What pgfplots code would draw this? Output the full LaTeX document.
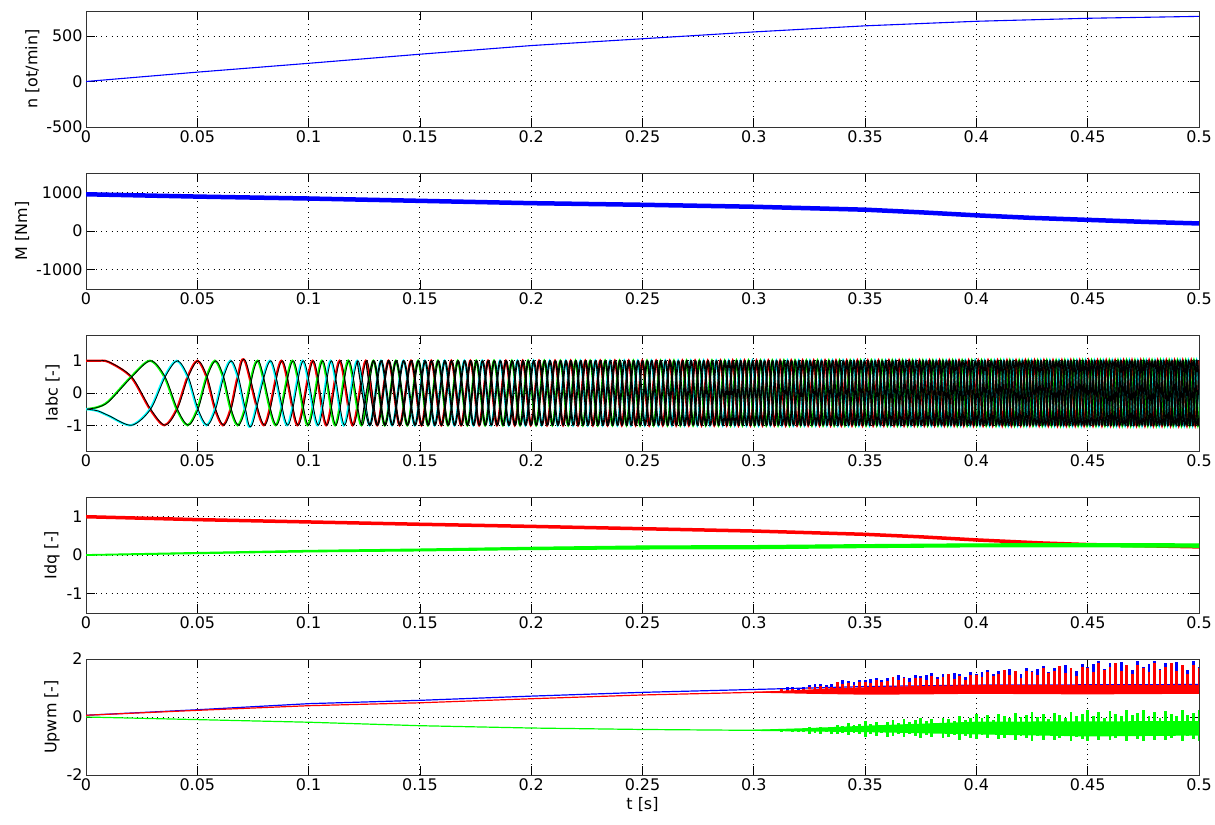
\documentclass[border=0pt]{standalone}
\usepackage{fontspec}
\setmainfont{DejaVu Sans}
\usepackage{pgfplots}
\usepackage{pgfplotstable}
\pgfplotsset{compat=1.18}
\definecolor{mred}{rgb}{1,0,0}
\definecolor{mgreen}{rgb}{0,1,0}
\definecolor{mcyan}{rgb}{0,1,1}
\definecolor{mblue}{rgb}{0,0,1}

% phase a (red): extrema
\pgfplotstableread{
t v
0 1
0.005 0.998
0.010 0.966
0.0202 0.5
0.0287 -0.5
0.0352 -1
0.0407 -0.5
0.0456 0.5
0.0500 1
0.0541 0.5
0.0579 -0.5
0.0615 -1
0.0649 -0.5
0.0681 0.5
0.0713 1
0.0799 -1
0.0878 1
0.0950 -1
0.1018 1
0.1079 -1
0.1139 1
0.1198 -1
0.1257 1
0.1308 -1
0.1359 1
0.1409 -1
0.1460 1
0.1507 -1
0.1551 1
0.1596 -1
0.1641 1
0.1685 -1
0.1727 1
0.1766 -1
0.1806 1
0.1846 -1
0.1886 1
0.1926 -1
0.1962 1
0.1998 -1
0.2035 1
0.2071 -1
0.2107 1
0.2143 -1
0.2177 1
0.2210 -1
0.2243 1
0.2277 -1
0.2310 1
0.2343 -1
0.2376 1
0.2407 -1
0.2438 1
0.2469 -1
0.2499 1
0.2530 -1
0.2561 1
0.2591 -1
0.2622 1
0.2651 -1
0.2679 1
0.2708 -1
0.2736 1
0.2765 -1
0.2793 1
0.2822 -1
0.2850 1
0.2878 -1
0.2905 1
0.2931 -1
0.2958 1
0.2985 -1
0.3012 1
0.3039 -1
0.3065 1
0.3092 -1
0.3118 1
0.3143 -1
0.3168 1
0.3194 -1
0.3219 1
0.3244 -1
0.3269 1
0.3295 -1
0.3320 1
0.3345 -1
0.3369 1
0.3393 -1
0.3417 1
0.3441 -1
0.3465 1
0.3488 -1
0.3512 1
0.3536 -1
0.3560 1
0.3584 -1
0.3607 1
0.3630 -1
0.3653 1
0.3675 -1
0.3698 1
0.3721 -1
0.3744 1
0.3766 -1
0.3789 1
0.3812 -1
0.3834 1
0.3856 -1
0.3878 1
0.3900 -1
0.3922 1
0.3943 -1
0.3965 1
0.3987 -1
0.4008 1
0.4030 -1
0.4052 1
0.4073 -1
0.4095 1
0.4116 -1
0.4137 1
0.4157 -1
0.4178 1
0.4199 -1
0.4220 1
0.4240 -1
0.4261 1
0.4282 -1
0.4303 1
0.4323 -1
0.4344 1
0.4364 -1
0.4384 1
0.4404 -1
0.4424 1
0.4444 -1
0.4464 1
0.4484 -1
0.4504 1
0.4524 -1
0.4544 1
0.4564 -1
0.4583 1
0.4603 -1
0.4623 1
0.4642 -1
0.4661 1
0.4680 -1
0.4699 1
0.4719 -1
0.4738 1
0.4757 -1
0.4776 1
0.4795 -1
0.4814 1
0.4834 -1
0.4853 1
0.4872 -1
0.4890 1
0.4909 -1
0.4927 1
0.4946 -1
0.4965 1
0.4983 -1
0.5001 1
}\iA

% phase b (green)
\pgfplotstableread{
t v
0 -0.5
0.005 -0.443
0.010 -0.26
0.0202 0.5
0.0287 1
0.0352 0.5
0.0407 -0.5
0.0456 -1
0.0500 -0.5
0.0541 0.5
0.0579 1
0.0615 0.5
0.0649 -0.5
0.0681 -1
0.0713 -0.5
0.0771 1
0.0852 -1
0.0927 1
0.0996 -1
0.1060 1
0.1119 -1
0.1178 1
0.1237 -1
0.1291 1
0.1342 -1
0.1392 1
0.1443 -1
0.1492 1
0.1536 -1
0.1581 1
0.1626 -1
0.1670 1
0.1713 -1
0.1753 1
0.1793 -1
0.1833 1
0.1873 -1
0.1913 1
0.1950 -1
0.1986 1
0.2022 -1
0.2059 1
0.2095 -1
0.2131 1
0.2166 -1
0.2199 1
0.2232 -1
0.2265 1
0.2299 -1
0.2332 1
0.2365 -1
0.2397 1
0.2428 -1
0.2459 1
0.2489 -1
0.2520 1
0.2550 -1
0.2581 1
0.2612 -1
0.2641 1
0.2670 -1
0.2698 1
0.2727 -1
0.2755 1
0.2784 -1
0.2812 1
0.2841 -1
0.2869 1
0.2896 -1
0.2922 1
0.2949 -1
0.2976 1
0.3003 -1
0.3030 1
0.3056 -1
0.3083 1
0.3109 -1
0.3135 1
0.3160 -1
0.3185 1
0.3210 -1
0.3236 1
0.3261 -1
0.3286 1
0.3311 -1
0.3337 1
0.3361 -1
0.3385 1
0.3409 -1
0.3433 1
0.3457 -1
0.3480 1
0.3504 -1
0.3528 1
0.3552 -1
0.3576 1
0.3600 -1
0.3622 1
0.3645 -1
0.3668 1
0.3691 -1
0.3713 1
0.3736 -1
0.3759 1
0.3781 -1
0.3804 1
0.3827 -1
0.3849 1
0.3871 -1
0.3893 1
0.3914 -1
0.3936 1
0.3958 -1
0.3979 1
0.4001 -1
0.4023 1
0.4044 -1
0.4066 1
0.4088 -1
0.4109 1
0.4130 -1
0.4150 1
0.4171 -1
0.4192 1
0.4213 -1
0.4233 1
0.4254 -1
0.4275 1
0.4296 -1
0.4316 1
0.4337 -1
0.4358 1
0.4378 -1
0.4397 1
0.4417 -1
0.4437 1
0.4457 -1
0.4477 1
0.4497 -1
0.4517 1
0.4537 -1
0.4557 1
0.4577 -1
0.4597 1
0.4616 -1
0.4636 1
0.4655 -1
0.4674 1
0.4693 -1
0.4712 1
0.4731 -1
0.4751 1
0.4770 -1
0.4789 1
0.4808 -1
0.4827 1
0.4846 -1
0.4866 1
0.4884 -1
0.4903 1
0.4921 -1
0.4940 1
0.4958 -1
0.4977 1
0.4995 -1
0.5014 1
}\iB

% phase c (cyan)
\pgfplotstableread{
t v
0 -0.5
0.005 -0.555
0.010 -0.705
0.0202 -1
0.0287 -0.5
0.0352 0.5
0.0407 1
0.0456 0.5
0.0500 -0.5
0.0541 -1
0.0579 -0.5
0.0615 0.5
0.0649 1
0.0681 0.5
0.0713 -0.5
0.0742 -1
0.0826 1
0.0903 -1
0.0973 1
0.1040 -1
0.1099 1
0.1158 -1
0.1218 1
0.1274 -1
0.1325 1
0.1375 -1
0.1426 1
0.1477 -1
0.1522 1
0.1566 -1
0.1611 1
0.1655 -1
0.1700 1
0.1740 -1
0.1780 1
0.1820 -1
0.1860 1
0.1899 -1
0.1938 1
0.1974 -1
0.2010 1
0.2047 -1
0.2083 1
0.2119 -1
0.2155 1
0.2188 -1
0.2221 1
0.2254 -1
0.2288 1
0.2321 -1
0.2354 1
0.2387 -1
0.2418 1
0.2448 -1
0.2479 1
0.2510 -1
0.2540 1
0.2571 -1
0.2602 1
0.2632 -1
0.2660 1
0.2689 -1
0.2717 1
0.2746 -1
0.2774 1
0.2803 -1
0.2831 1
0.2860 -1
0.2887 1
0.2914 -1
0.2940 1
0.2967 -1
0.2994 1
0.3021 -1
0.3047 1
0.3074 -1
0.3101 1
0.3126 -1
0.3151 1
0.3177 -1
0.3202 1
0.3227 -1
0.3252 1
0.3278 -1
0.3303 1
0.3328 -1
0.3353 1
0.3377 -1
0.3401 1
0.3425 -1
0.3449 1
0.3472 -1
0.3496 1
0.3520 -1
0.3544 1
0.3568 -1
0.3592 1
0.3615 -1
0.3637 1
0.3660 -1
0.3683 1
0.3706 -1
0.3728 1
0.3751 -1
0.3774 1
0.3797 -1
0.3819 1
0.3842 -1
0.3864 1
0.3885 -1
0.3907 1
0.3929 -1
0.3950 1
0.3972 -1
0.3994 1
0.4016 -1
0.4037 1
0.4059 -1
0.4081 1
0.4102 -1
0.4123 1
0.4143 -1
0.4164 1
0.4185 -1
0.4206 1
0.4226 -1
0.4247 1
0.4268 -1
0.4289 1
0.4309 -1
0.4330 1
0.4351 -1
0.4371 1
0.4391 -1
0.4411 1
0.4431 -1
0.4451 1
0.4471 -1
0.4490 1
0.4510 -1
0.4530 1
0.4550 -1
0.4570 1
0.4590 -1
0.4610 1
0.4629 -1
0.4648 1
0.4668 -1
0.4687 1
0.4706 -1
0.4725 1
0.4744 -1
0.4763 1
0.4783 -1
0.4802 1
0.4821 -1
0.4840 1
0.4859 -1
0.4878 1
0.4897 -1
0.4915 1
0.4934 -1
0.4952 1
0.4971 -1
0.4989 1
0.5008 -1
}\iC

% Upwm oscillation part: base of red spikes, red spike, blue spike, green centre, green half-range
\pgfplotstableread{
t r rp bp g ge
0.3125 0.90 0.05 0.10 -0.46 0.04
0.3150 0.90 0.03 0.13 -0.46 0.03
0.3175 0.90 0.05 0.12 -0.46 0.05
0.3200 0.90 0.03 0.11 -0.46 0.04
0.3225 0.90 0.05 0.13 -0.46 0.04
0.3250 0.95 0.10 0.16 -0.46 0.12
0.3275 0.95 0.07 0.18 -0.46 0.08
0.3300 0.95 0.12 0.20 -0.46 0.11
0.3325 0.95 0.08 0.16 -0.46 0.06
0.3350 0.95 0.10 0.19 -0.46 0.11
0.3375 1.00 0.20 0.18 -0.42 0.16
0.3400 1.00 0.13 0.27 -0.42 0.12
0.3425 1.00 0.18 0.24 -0.42 0.20
0.3450 1.00 0.10 0.20 -0.42 0.14
0.3475 1.00 0.19 0.28 -0.42 0.17
0.3500 1.00 0.22 0.28 -0.42 0.27
0.3525 1.00 0.17 0.32 -0.42 0.18
0.3550 1.00 0.28 0.36 -0.42 0.24
0.3575 1.00 0.20 0.26 -0.42 0.14
0.3600 1.00 0.24 0.33 -0.42 0.26
0.3625 1.05 0.33 0.25 -0.38 0.26
0.3650 1.05 0.21 0.39 -0.38 0.19
0.3675 1.05 0.30 0.34 -0.38 0.32
0.3700 1.05 0.17 0.28 -0.38 0.22
0.3725 1.05 0.31 0.41 -0.38 0.27
0.3750 1.05 0.30 0.35 -0.38 0.36
0.3775 1.05 0.23 0.40 -0.38 0.23
0.3800 1.05 0.38 0.46 -0.38 0.32
0.3825 1.05 0.27 0.33 -0.38 0.18
0.3850 1.05 0.32 0.42 -0.38 0.34
0.3875 1.05 0.42 0.29 -0.38 0.32
0.3900 1.05 0.27 0.48 -0.38 0.24
0.3925 1.05 0.38 0.42 -0.38 0.40
0.3950 1.05 0.21 0.33 -0.38 0.28
0.3975 1.05 0.40 0.50 -0.38 0.34
0.4000 1.10 0.36 0.40 -0.33 0.44
0.4025 1.10 0.27 0.46 -0.33 0.29
0.4050 1.10 0.45 0.53 -0.33 0.40
0.4075 1.10 0.32 0.37 -0.33 0.22
0.4100 1.10 0.38 0.49 -0.33 0.42
0.4125 1.10 0.52 0.34 -0.33 0.38
0.4150 1.10 0.34 0.57 -0.33 0.28
0.4175 1.10 0.47 0.50 -0.33 0.47
0.4200 1.10 0.26 0.39 -0.33 0.33
0.4225 1.10 0.49 0.60 -0.33 0.40
0.4250 1.10 0.46 0.49 -0.33 0.50
0.4275 1.10 0.35 0.57 -0.33 0.33
0.4300 1.10 0.58 0.66 -0.33 0.45
0.4325 1.10 0.41 0.46 -0.33 0.25
0.4350 1.10 0.49 0.60 -0.33 0.48
0.4375 1.10 0.65 0.41 -0.33 0.40
0.4400 1.10 0.42 0.70 -0.33 0.30
0.4425 1.10 0.59 0.60 -0.33 0.50
0.4450 1.10 0.33 0.47 -0.33 0.35
0.4475 1.10 0.62 0.73 -0.33 0.43
0.4500 1.10 0.60 0.61 -0.30 0.53
0.4525 1.10 0.45 0.72 -0.30 0.34
0.4550 1.10 0.75 0.83 -0.30 0.48
0.4575 1.10 0.53 0.57 -0.30 0.27
0.4600 1.10 0.64 0.76 -0.30 0.50
0.4625 1.10 0.75 0.46 -0.30 0.42
0.4650 1.10 0.49 0.79 -0.30 0.32
0.4675 1.10 0.68 0.68 -0.30 0.53
0.4700 1.10 0.38 0.53 -0.30 0.37
0.4725 1.10 0.71 0.83 -0.30 0.45
0.4750 1.10 0.60 0.61 -0.30 0.53
0.4775 1.10 0.45 0.72 -0.30 0.34
0.4800 1.10 0.75 0.83 -0.30 0.48
0.4825 1.10 0.53 0.57 -0.30 0.27
0.4850 1.10 0.64 0.76 -0.30 0.50
0.4875 1.10 0.75 0.46 -0.30 0.42
0.4900 1.10 0.49 0.79 -0.30 0.32
0.4925 1.10 0.68 0.68 -0.30 0.53
0.4950 1.10 0.38 0.53 -0.30 0.37
0.4975 1.10 0.71 0.83 -0.30 0.45
0.5000 1.10 0.60 0.61 -0.30 0.53
}\upwm

\pgfplotsset{
  mat/.style={
    scale only axis, width=1113bp, height=116bp,
    xmin=0, xmax=0.5,
    xtick={0,0.05,0.1,0.15,0.2,0.25,0.3,0.35,0.4,0.45,0.5},
    xticklabels={0,0.05,0.1,0.15,0.2,0.25,0.3,0.35,0.4,0.45,0.5},
    tick align=inside, xtick pos=both, ytick pos=both,
    major tick length=9bp,
    tick style={black, line width=0.8bp},
    axis line style={black!80, line width=0.9bp},
    grid=major,
    major grid style={black, line width=0.9bp, dash pattern=on 0.9bp off 4.2bp},
    tick label style={font=\fontsize{16}{19}\selectfont, black},
    label style={font=\fontsize{16}{19}\selectfont},
  },
  spikes/.style={draw=none, mark=none, forget plot},
}

\begin{document}
\begin{tikzpicture}
\useasboundingbox (0,0) rectangle (1215bp,-825bp);

% ---------- n ----------
\begin{axis}[mat, at={(86bp,-11bp)}, anchor=north west,
  ymin=-500, ymax=775, ytick={-500,0,500}, yticklabels={-500,0,500},
  ylabel={n [ot/min]}]
\addplot[mblue, line width=1.1bp] coordinates {
 (0,0) (0.05,103) (0.1,200) (0.15,300) (0.2,395) (0.25,470)
 (0.3,545) (0.35,612) (0.4,662) (0.45,695) (0.5,716)};
\end{axis}

% ---------- M ----------
\begin{axis}[mat, at={(86bp,-173bp)}, anchor=north west,
  ymin=-1500, ymax=1500, ytick={-1000,0,1000}, yticklabels={-1000,0,1000},
  ylabel={M [Nm]}]
\addplot[mblue, line width=4.5bp] coordinates {
 (0,950) (0.05,890) (0.1,840) (0.15,780) (0.2,720) (0.25,678) (0.3,627)
 (0.35,551) (0.375,483) (0.4,405) (0.425,339) (0.45,288) (0.475,237) (0.5,195)};
\end{axis}

% ---------- Iabc ----------
\begin{axis}[mat, at={(86bp,-335bp)}, anchor=north west,
  ymin=-1.8, ymax=1.8, ytick={-1,0,1}, yticklabels={-1,0,1},
  ylabel={Iabc [-]}]
\addplot[mred, line width=2.2bp, smooth] table[x=t,y=v] {\iA};
\addplot[mgreen, line width=2.2bp, smooth] table[x=t,y=v] {\iB};
\addplot[mcyan, line width=2.2bp, smooth] table[x=t,y=v] {\iC};
\addplot[black, line width=0.8bp, smooth, xshift=0.8bp] table[x=t,y=v] {\iA};
\addplot[black, line width=0.8bp, smooth, xshift=0.8bp] table[x=t,y=v] {\iB};
\addplot[black, line width=0.8bp, smooth, xshift=0.8bp] table[x=t,y=v] {\iC};
\addplot[black, line width=1.1bp, smooth, restrict x to domain=0.12:0.6] table[x=t,y=v] {\iA};
\addplot[black, line width=1.1bp, smooth, restrict x to domain=0.12:0.6] table[x=t,y=v] {\iB};
\addplot[black, line width=1.1bp, smooth, restrict x to domain=0.12:0.6] table[x=t,y=v] {\iC};
\end{axis}

% ---------- Idq ----------
\begin{axis}[mat, at={(86bp,-497bp)}, anchor=north west,
  ymin=-1.5, ymax=1.5, ytick={-1,0,1}, yticklabels={-1,0,1},
  ylabel={Idq [-]}]
\addplot[mred, line width=3.5bp] coordinates {
 (0,0.99) (0.05,0.915) (0.1,0.855) (0.15,0.795) (0.2,0.74) (0.25,0.68)
 (0.3,0.62) (0.35,0.535) (0.375,0.47) (0.4,0.39) (0.43,0.31) (0.45,0.27) (0.5,0.21)};
\addplot[mgreen, fill=mgreen, line width=1bp] coordinates {
 (0,0.01) (0.05,0.065) (0.1,0.12) (0.15,0.155) (0.2,0.2) (0.25,0.235) (0.3,0.245)
 (0.35,0.27) (0.4,0.29) (0.45,0.295) (0.5,0.29)
 (0.5,0.2) (0.45,0.21) (0.4,0.21) (0.35,0.19) (0.3,0.16) (0.25,0.155) (0.2,0.14)
 (0.15,0.105) (0.1,0.08) (0.05,0.035) (0,-0.01)};
\end{axis}

% ---------- Upwm ----------
\begin{axis}[mat, at={(86bp,-659bp)}, anchor=north west,
  ymin=-2, ymax=2, ytick={-2,0,2}, yticklabels={-2,0,2},
  ylabel={Upwm [-]}, xlabel={t [s]}]
\addplot[mblue, line width=1.2bp] coordinates {
 (0,0.06) (0.05,0.25) (0.1,0.46) (0.15,0.575) (0.2,0.72) (0.25,0.85) (0.3,0.95)
 (0.35,1.05) (0.4,1.1) (0.5,1.12)};
\addplot[spikes, error bars/.cd, y dir=plus, y explicit, error mark=none,
  error bar style={draw=mblue, line width=2.8bp}] table[x=t, y=r, y error plus=bp] {\upwm};
\addplot[mred, line width=1.2bp] coordinates {
 (0,0.06) (0.05,0.23) (0.1,0.39) (0.15,0.49) (0.2,0.63) (0.25,0.76) (0.3,0.85) (0.3125,0.87)};
\addplot[mred, fill=mred, draw=none] coordinates {
 (0.3,0.87) (0.3125,0.9) (0.325,0.95) (0.3375,1.0) (0.3625,1.05) (0.4,1.1) (0.5,1.1)
 (0.5,0.8) (0.45,0.78) (0.4,0.8) (0.375,0.78) (0.35,0.77) (0.325,0.8) (0.3,0.84)};
\addplot[spikes, error bars/.cd, y dir=plus, y explicit, error mark=none,
  error bar style={draw=mred, line width=2.8bp}] table[x=t, y=r, y error plus=rp] {\upwm};
\addplot[mgreen, line width=1.2bp] coordinates {
 (0,0) (0.05,-0.09) (0.1,-0.18) (0.15,-0.3) (0.2,-0.38) (0.25,-0.43) (0.3,-0.46) (0.3125,-0.46)};
\addplot[mgreen, fill=mgreen, draw=none] coordinates {
 (0.3,-0.44) (0.325,-0.38) (0.35,-0.3) (0.4,-0.16) (0.45,-0.15) (0.5,-0.14)
 (0.5,-0.64) (0.45,-0.67) (0.4,-0.6) (0.35,-0.52) (0.325,-0.5) (0.3,-0.48)};
\addplot[spikes, error bars/.cd, y dir=both, y explicit, error mark=none,
  error bar style={draw=mgreen, line width=2.8bp}] table[x=t, y=g, y error=ge] {\upwm};
\end{axis}
\end{tikzpicture}
\end{document}
